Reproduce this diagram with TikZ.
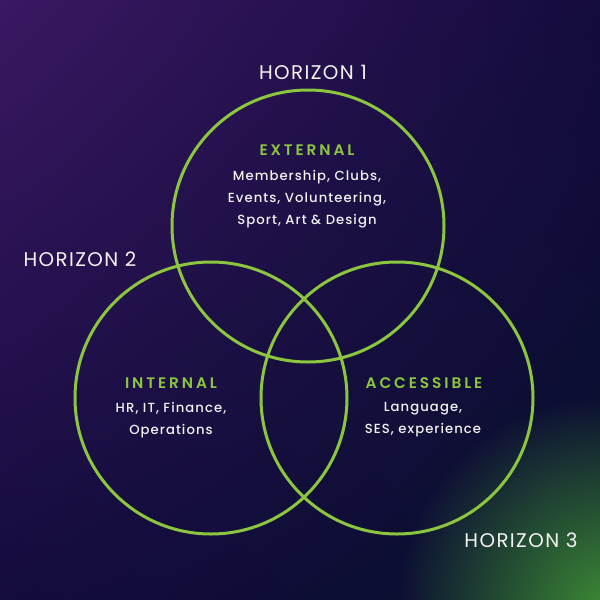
\documentclass[tikz,border=0pt]{standalone}
\usepackage{fontspec}
\setmainfont{Poppins}
\newfontfamily\horizonfont[LetterSpace=7]{Poppins}
\newfontfamily\headfont[LetterSpace=19]{Poppins SemiBold}
\newfontfamily\blurbfont[LetterSpace=8]{Poppins Medium}
\usetikzlibrary{fadings,shadings}
\definecolor{ringgreen}{HTML}{8CC63F}
\definecolor{glowgreen}{HTML}{3E8C36}
\definecolor{bgpurple}{HTML}{3A1862}
\definecolor{bgnavy}{HTML}{0B0A32}
\definecolor{bgnavyb}{HTML}{140B3E}
\definecolor{bgnavyc}{HTML}{07102C}
\definecolor{textwhite}{HTML}{F2F2F2}
\tikzfading[name=glowfade, inner color=transparent!0, outer color=transparent!100]
\tikzset{
  ring/.style={circle,draw=ringgreen,line width=3pt,minimum size=272pt,inner sep=0pt},
  horizon/.style={text=textwhite,font=\horizonfont\fontsize{19.8}{22}\selectfont},
  head/.style={text=ringgreen,font=\headfont\fontsize{15.3}{18}\selectfont},
  blurb/.style={text=textwhite,align=center,font=\blurbfont\fontsize{13.2}{22}\selectfont}
}
\begin{document}
\begin{tikzpicture}[x=1pt,y=-1pt]
  % background
  \useasboundingbox (0,0) rectangle (600,600);
  \shade[upper left=bgpurple,upper right=bgnavyb,lower left=bgnavyb,lower right=bgnavyc]
    (0,0) rectangle (600,600);
  \begin{scope}
    \clip (0,0) rectangle (600,600);
    \fill[glowgreen,path fading=glowfade] (610,610) circle (215pt);
  \end{scope}
  % the three horizons
  \node[ring] (ring1) at (308,226) {};
  \node[ring] (ring2) at (211,398) {};
  \node[ring] (ring3) at (397,398) {};
  \node[horizon] (hz1) at (313,72) {HORIZON 1};
  \node[horizon] (hz2) at (80,259) {HORIZON 2};
  \node[horizon] (hz3) at (521,540) {HORIZON 3};
  % texts inside
  \node[head] (exthead) at (307,150) {EXTERNAL};
  \node[blurb] (extbody) at (307,199)
    {Membership, Clubs,\\Events, Volunteering,\\Sport, Art \& Design};
  \node[head] (inthead) at (171,383) {INTERNAL};
  \node[blurb] (intbody) at (171,420) {HR, IT, Finance,\\Operations};
  \node[head] (acchead) at (424,383) {ACCESSIBLE};
  \node[blurb] (accbody) at (423,420) {Language,\\SES, experience};
\end{tikzpicture}
\end{document}
